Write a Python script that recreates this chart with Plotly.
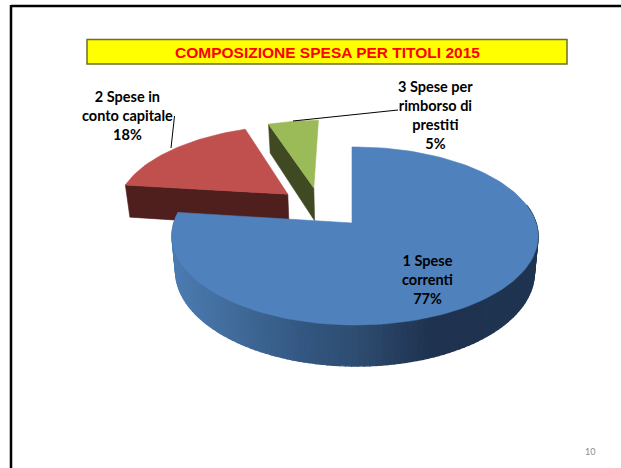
import numpy as np
import plotly.graph_objects as go

categories = ['1 Spese correnti', '2 Spese in conto capitale', '3 Spese per rimborso di prestiti']
shares = [77.0, 17.6, 5.4]
label_text = ['1 Spese<br>correnti<br>77%', '2 Spese in<br>conto capitale<br>18%', '3 Spese per<br>rimborso di<br>prestiti<br>5%']
title_text = 'COMPOSIZIONE SPESA PER TITOLI 2015'
page_number = '10'

top_colors = ['#4f81bd', '#c0504d', '#9bbb59']
face_colors = ['#1f3552', '#4f1f1e', '#3f4a22']
# exploded offset of each slice, in units of the pie radius
explode = [(0, 0), (-0.375, 0.35), (-0.225, 0.43)]

# perspective of the tilted pie, in slide pixels
CX, CY = 352, 223
RX, RY = 181, 87.1
KV, KU = 0.146, -0.0164
DEPTH = 35


def project(u, v, z=0):
    d = 1 + KV * v + KU * u
    x = CX + RX * u / d * (1 - 0.02 * z)
    y = CY - RY * v / d + z * DEPTH / d
    return x, y


def rim(theta, off, z=0):
    t = np.radians(theta)
    return project(off[0] + np.sin(t), off[1] + np.cos(t), z)


def poly(fig, xs, ys, color, width=0.6):
    fig.add_trace(go.Scatter(x=list(xs), y=list(ys), mode='lines', fill='toself', fillcolor=color,
                             line=dict(color=color, width=width), hoverinfo='skip', showlegend=False))


# slice angles clockwise from 12 o'clock
bounds = np.cumsum([0] + shares) * 3.6
angles = [(bounds[i], bounds[i + 1]) for i in range(3)]

fig = go.Figure()

# back slices first: inner dark face, then top
for i in [2, 1]:
    a0, a1 = angles[i]
    off = explode[i]
    apex = project(*off)
    apex_low = project(*off, 1)
    p0 = rim(a0, off)
    p0_low = rim(a0, off, 1)
    poly(fig, [p0[0], apex[0], apex_low[0], p0_low[0], p0[0]], [p0[1], apex[1], apex_low[1], p0_low[1], p0[1]], face_colors[i])
    th = np.linspace(a0, a1, 40)
    rx, ry = rim(th, off)
    poly(fig, np.r_[apex[0], rx, apex[0]], np.r_[apex[1], ry, apex[1]], top_colors[i])

# blue side wall, shaded along x
stops_x = [172, 230, 300, 360, 430, 538]
stops_rgb = np.array([[76, 124, 178], [66, 108, 156], [52, 88, 130], [46, 76, 112], [31, 51, 80], [31, 53, 82]])
off = explode[0]
th = np.linspace(78, angles[0][1], 120)
for t0, t1 in zip(th[:-1], th[1:]):
    x0, y0 = rim(t0, off)
    x1, y1 = rim(t1, off)
    x2, y2 = rim(t1, off, 1)
    x3, y3 = rim(t0, off, 1)
    rgb = [np.interp((x0 + x1) / 2, stops_x, stops_rgb[:, k]) for k in range(3)]
    poly(fig, [x0, x1, x2, x3, x0], [y0, y1, y2, y3, y0], 'rgb(%d,%d,%d)' % tuple(rgb), width=1.4)

# blue top
apex = project(*off)
p0 = rim(0, off)
fig.add_trace(go.Scatter(x=[p0[0] + 0.8, apex[0] + 0.8], y=[p0[1] + 2, apex[1]], mode='lines',
                         line=dict(color=face_colors[0], width=1.5), hoverinfo='skip', showlegend=False))
th = np.linspace(angles[0][0], angles[0][1], 160)
rx, ry = rim(th, off)
poly(fig, np.r_[apex[0], rx, apex[0]], np.r_[apex[1], ry, apex[1]], top_colors[0])

fig.update_layout(
    width=621, height=468,
    margin=dict(l=0, r=0, t=0, b=0),
    paper_bgcolor='white', plot_bgcolor='white',
    xaxis=dict(range=[0, 621], visible=False, fixedrange=True),
    yaxis=dict(range=[468, 0], visible=False, fixedrange=True),
    shapes=[
        # slide frame
        dict(type='line', xref='x', yref='y', x0=11, y0=6, x1=621, y1=6, line=dict(color='black', width=2.5)),
        dict(type='line', xref='x', yref='y', x0=11, y0=5, x1=11, y1=468, line=dict(color='black', width=2.5)),
        # title box
        dict(type='rect', xref='x', yref='y', x0=87, y0=39.5, x1=567, y1=64, fillcolor='#ffff00', line=dict(color='#6e6e28', width=1.5)),
        # leader lines
        dict(type='line', xref='x', yref='y', x0=174.5, y0=116, x1=171, y1=148, line=dict(color='black', width=1)),
        dict(type='line', xref='x', yref='y', x0=398, y0=110, x1=293, y1=121, line=dict(color='black', width=1)),
    ],
)


def label(x, y, text, size=14.5):
    fig.add_annotation(x=x, y=y, xref='x', yref='y', text=text, showarrow=False, align='center',
                       font=dict(family='Lato', size=size, color='black', weight='bold'))


label(427, 279, label_text[0])
label(127.5, 115, label_text[1])
label(435, 115, label_text[2])
fig.add_annotation(x=327, y=52, xref='x', yref='y', text=title_text, showarrow=False,
                   font=dict(family='Liberation Sans', size=15.5, color='#ff0000', weight='bold'))
fig.add_annotation(x=590, y=451, xref='x', yref='y', text=page_number, showarrow=False,
                   font=dict(family='Lato', size=9, color='#8c8c8c'))

fig.write_html("out.html", post_script="document.body.style.margin='0';", config=dict(displayModeBar=False))
